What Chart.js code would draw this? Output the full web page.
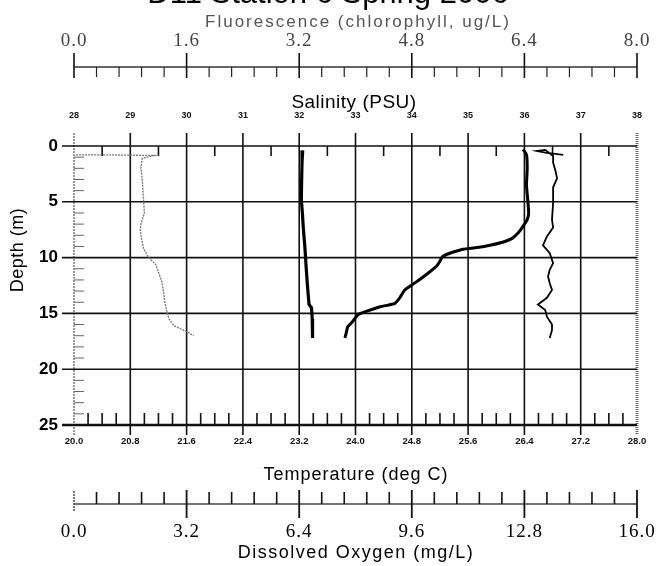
<!DOCTYPE html>
<html>
<head>
<meta charset="utf-8">
<script src="https://cdn.jsdelivr.net/npm/chart.js@4.4.1/dist/chart.umd.min.js"></script>
<style>
  html, body { margin: 0; padding: 0; background: #fff; }
  #wrap { width: 659px; height: 566px; position: relative; }
</style>
</head>
<body>
<div id="wrap"><canvas id="c"></canvas></div>
<script>
const chartTitle = "D11 Station 6 Spring 2006";

// axis ticks
const depthTicks = [0, 5, 10, 15, 20, 25];
const tempTicks = [20.0, 20.8, 21.6, 22.4, 23.2, 24.0, 24.8, 25.6, 26.4, 27.2, 28.0];
const salTicks = [28, 29, 30, 31, 32, 33, 34, 35, 36, 37, 38];
const fluoTicks = [0.0, 1.6, 3.2, 4.8, 6.4, 8.0];
const oxyTicks = [0.0, 3.2, 6.4, 9.6, 12.8, 16.0];

// fluorescence profile (ug/L)
const fluoDepth = [0.8, 0.8, 0.85, 1.1, 2.0, 3.0, 4.0, 5.0, 6.0, 6.8, 7.5, 8.3, 9.2, 10.0, 10.6, 11.3, 12.2, 13.0, 14.0, 14.8, 15.5, 16.1, 16.4, 16.7, 17.0];
const fluoValue = [0.03, 0.55, 1.14, 0.97, 0.95, 0.97, 0.98, 0.99, 1.0, 0.96, 0.94, 0.96, 0.99, 1.06, 1.16, 1.2, 1.25, 1.27, 1.29, 1.32, 1.35, 1.42, 1.52, 1.62, 1.7];

// dissolved oxygen profile (mg/L)
const oxyDepth = [0.4, 1.5, 3.0, 4.8, 6.0, 7.5, 9.0, 10.0, 11.0, 12.3, 13.5, 14.2, 14.5, 15.5, 16.5, 17.2];
const oxyValue = [6.50, 6.48, 6.47, 6.46, 6.49, 6.52, 6.56, 6.58, 6.60, 6.63, 6.66, 6.68, 6.75, 6.77, 6.78, 6.78];

// temperature profile (deg C)
const tempDepth = [0.3, 0.8, 2.0, 3.5, 5.0, 6.0, 6.6, 7.2, 7.8, 8.3, 8.6, 8.9, 9.1, 9.25, 9.5, 9.7, 9.9, 10.7, 11.4, 12.2, 12.9, 13.6, 14.1, 14.4, 14.8, 15.1, 15.8, 16.2, 16.7, 17.2];
const tempValue = [26.38, 26.43, 26.44, 26.43, 26.45, 26.46, 26.44, 26.38, 26.31, 26.22, 26.10, 25.91, 25.73, 25.53, 25.39, 25.30, 25.24, 25.16, 25.03, 24.86, 24.70, 24.63, 24.56, 24.35, 24.16, 24.04, 23.95, 23.89, 23.87, 23.85];

// salinity profile (PSU)
const salDepth = [0.8, 0.6, 0.45, 0.35, 0.9, 1.5, 2.2, 2.9, 3.7, 5.1, 6.6, 7.3, 8.1, 8.9, 9.3, 9.6, 10.5, 11.1, 11.7, 12.3, 12.9, 13.6, 14.2, 14.7, 15.3, 16.0, 16.5, 17.2];
const salValue = [36.69, 36.37, 36.22, 36.37, 36.51, 36.51, 36.55, 36.58, 36.51, 36.51, 36.49, 36.51, 36.40, 36.33, 36.40, 36.45, 36.51, 36.45, 36.42, 36.45, 36.49, 36.40, 36.24, 36.37, 36.40, 36.49, 36.49, 36.45];

const pts = (depth, vals) => depth.map((d, i) => ({ x: vals[i], y: d }));

function seg(ctx, x1, y1, x2, y2, w, color, dash) {
  ctx.beginPath();
  ctx.lineWidth = w;
  ctx.strokeStyle = color || "#111";
  ctx.setLineDash(dash || []);
  ctx.moveTo(x1, y1);
  ctx.lineTo(x2, y2);
  ctx.stroke();
  ctx.setLineDash([]);
}

function label(ctx, s, x, y, font, color, align, spacing) {
  ctx.font = font;
  ctx.fillStyle = color || "#000";
  ctx.textAlign = align || "center";
  ctx.textBaseline = "middle";
  ctx.letterSpacing = (spacing || 0) + "px";
  ctx.fillText(s, x, y);
  ctx.letterSpacing = "0px";
}

// axes frame, grid, extra axes and their texts
const frame = {
  id: "frame",
  beforeDatasetsDraw(chart) {
    const { ctx, chartArea: a, scales } = chart;
    const X = scales.x, S = scales.xS, F = scales.xF, D = scales.xD, Y = scales.y;
    ctx.save();

    // title, clipped at top like the scan
    label(ctx, chartTitle, 328, -6, "31px Arial", "#000", "center", 0);

    // vertical grid lines
    tempTicks.forEach((v, i) => {
      const px = X.getPixelForValue(v);
      if (i === 0) seg(ctx, px, a.top - 13, px, a.bottom + 10, 1.2, "#555", [2, 1]);
      else if (i === tempTicks.length - 1) seg(ctx, px, a.top - 13, px, a.bottom + 10, 3, "#666", [1, 1]);
      else seg(ctx, px, a.top - 13, px, a.bottom + 10, 1.6, "#111");
    });
    // horizontal grid lines
    depthTicks.forEach((d, i) => {
      const py = Y.getPixelForValue(d);
      const w = (i === depthTicks.length - 1) ? 2.6 : 1.6;
      seg(ctx, a.left - 12, py, a.right, py, w, "#111");
    });
    // depth minor ticks
    for (let d = 1; d < 25; d++) {
      if (d % 5 === 0) continue;
      const py = Y.getPixelForValue(d);
      seg(ctx, a.left, py, a.left + 10, py, 1, "#666");
    }
    // salinity minor ticks (top)
    for (let s = 28.5; s < 38; s += 1) {
      const px = S.getPixelForValue(s);
      seg(ctx, px, a.top, px, a.top + 10, 1.6, "#111");
    }
    // temperature minor ticks (bottom)
    for (let k = 1; k < 40; k++) {
      if (k % 4 === 0) continue;
      const px = X.getPixelForValue(20 + k * 0.2);
      seg(ctx, px, a.bottom - 12, px, a.bottom, 1.6, "#111");
    }

    // fluorescence axis
    const fy = 67;
    seg(ctx, F.getPixelForValue(0), fy, F.getPixelForValue(8), fy, 1.5, "#333");
    fluoTicks.forEach(v => {
      const px = F.getPixelForValue(v);
      seg(ctx, px, fy - 14, px, fy + 11, 1.6, "#111");
    });
    for (let k = 1; k < 25; k++) {
      if (k % 5 === 0) continue;
      const px = F.getPixelForValue(k * 0.32);
      seg(ctx, px, fy, px, fy + 10, 1.2, "#222");
    }

    // dissolved oxygen axis
    const dy = 504;
    seg(ctx, D.getPixelForValue(0), dy, D.getPixelForValue(16), dy, 1.5, "#444");
    oxyTicks.forEach((v, i) => {
      const px = D.getPixelForValue(v);
      if (i === 0) seg(ctx, px, dy - 13, px, dy + 7, 1.3, "#333", [2, 1]);
      else seg(ctx, px, dy - 14, px, dy + 14, 1.8, "#111");
    });
    for (let k = 1; k < 25; k++) {
      if (k % 5 === 0) continue;
      const px = D.getPixelForValue(k * 0.64);
      seg(ctx, px, dy - 12, px, dy, 1.6, "#111");
    }

    // texts
    label(ctx, "Fluorescence (chlorophyll, ug/L)", 358, 22, "17px Arial", "#555", "center", 2);
    fluoTicks.forEach(v => label(ctx, v.toFixed(1), F.getPixelForValue(v), 41, "19px 'Liberation Serif'", "#444", "center", 1));
    label(ctx, "Salinity (PSU)", 354, 103, "19px Arial", "#000", "center", 0.5);
    salTicks.forEach(v => label(ctx, String(v), S.getPixelForValue(v), 116, "bold 9px Arial", "#111", "center", 0));
    depthTicks.forEach(d => label(ctx, String(d), 58, Y.getPixelForValue(d), "bold 17px Arial", "#000", "right", 0));
    ctx.save();
    ctx.translate(18, 250);
    ctx.rotate(-Math.PI / 2);
    label(ctx, "Depth (m)", 0, 0, "18px Arial", "#000", "center", 0.5);
    ctx.restore();
    tempTicks.forEach(v => label(ctx, v.toFixed(1), X.getPixelForValue(v), 441, "bold 9.5px Arial", "#111", "center", 0));
    label(ctx, "Temperature (deg C)", 356, 475, "18px Arial", "#000", "center", 1);
    oxyTicks.forEach(v => label(ctx, v.toFixed(1), D.getPixelForValue(v), 532, "19px 'Liberation Serif'", "#000", "center", 1));
    label(ctx, "Dissolved Oxygen (mg/L)", 356, 553, "18px Arial", "#000", "center", 1.5);

    ctx.restore();
  }
};

new Chart(document.getElementById("c"), {
  type: "scatter",
  data: {
    datasets: [
      { label: "Fluorescence", data: pts(fluoDepth, fluoValue), xAxisID: "xF", yAxisID: "y",
        showLine: true, borderColor: "#777", borderWidth: 1.3, borderDash: [2, 1], pointRadius: 0, tension: 0 },
      { label: "Dissolved Oxygen", data: pts(oxyDepth, oxyValue), xAxisID: "xD", yAxisID: "y",
        showLine: true, borderColor: "#000", borderWidth: 3.2, pointRadius: 0, tension: 0 },
      { label: "Temperature", data: pts(tempDepth, tempValue), xAxisID: "x", yAxisID: "y",
        showLine: true, borderColor: "#000", borderWidth: 3, pointRadius: 0, tension: 0.2 },
      { label: "Salinity", data: pts(salDepth, salValue), xAxisID: "xS", yAxisID: "y",
        showLine: true, borderColor: "#000", borderWidth: 1.8, pointRadius: 0, tension: 0 }
    ]
  },
  options: {
    responsive: true,
    maintainAspectRatio: false,
    animation: false,
    layout: { padding: { left: 74, right: 22, top: 146, bottom: 141 } },
    plugins: { legend: { display: false }, tooltip: { enabled: false }, title: { display: false } },
    scales: {
      x: { type: "linear", min: 20, max: 28, display: false },
      xS: { type: "linear", min: 28, max: 38, display: false },
      xF: { type: "linear", min: 0, max: 8, display: false },
      xD: { type: "linear", min: 0, max: 16, display: false },
      y: { type: "linear", min: 0, max: 25, reverse: true, display: false }
    }
  },
  plugins: [frame]
});
</script>
</body>
</html>
